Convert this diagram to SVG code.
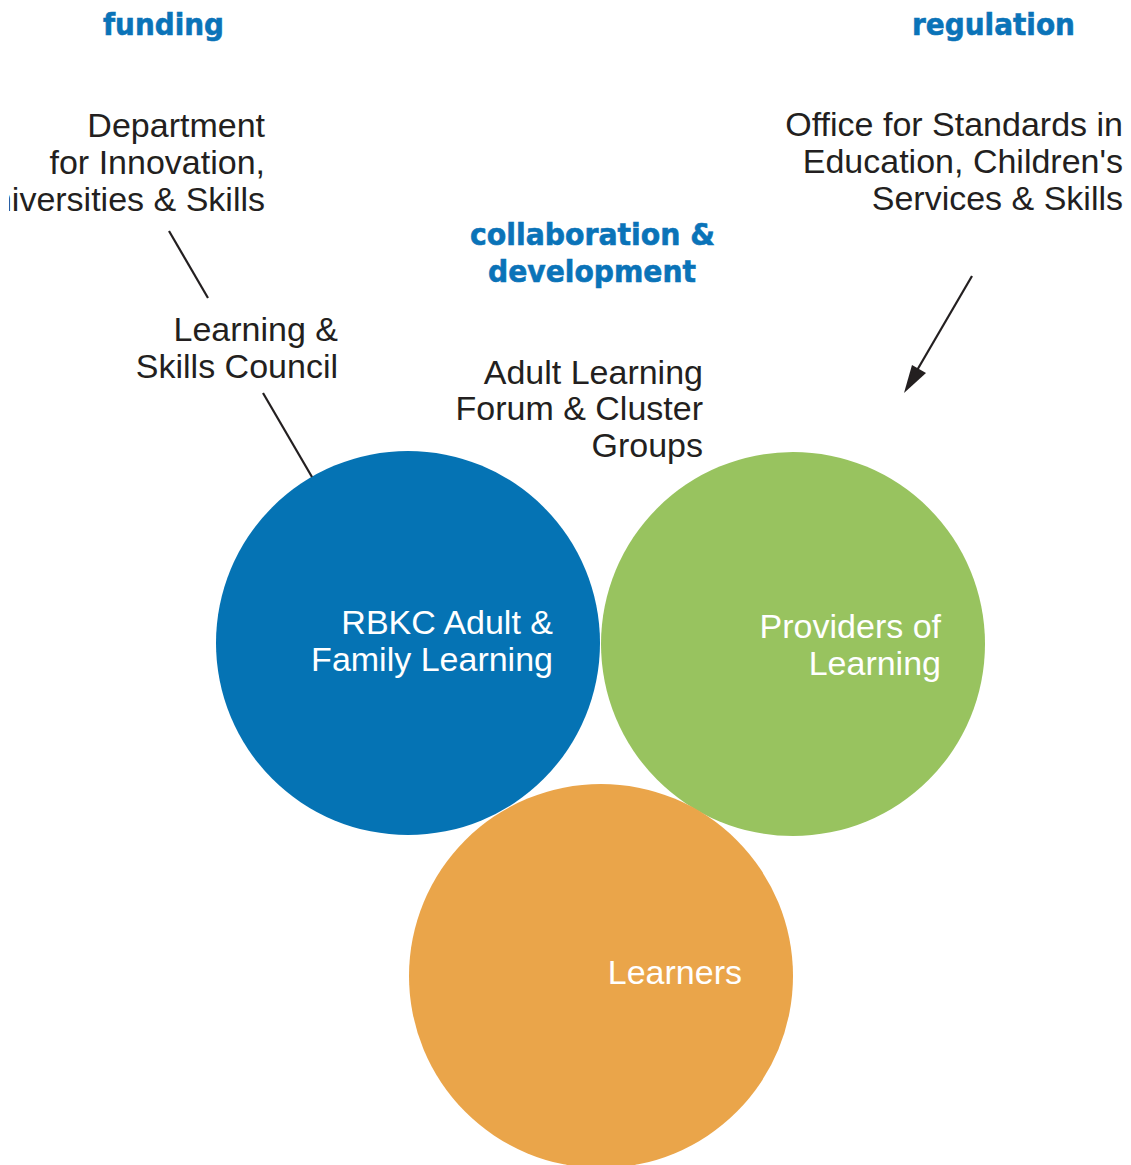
<svg xmlns="http://www.w3.org/2000/svg" width="1131" height="1165" viewBox="0 0 1131 1165">
  <style>
    .head { font-family: "DejaVu Sans", "Liberation Sans", sans-serif; font-weight: bold; font-size: 30px; fill: #0a73b8; stroke: #0a73b8; stroke-width: 0.6; }
    .label { font-family: "Liberation Sans", Arial, sans-serif; font-size: 34px; fill: #231f20; text-anchor: end; }
    .inner { font-family: "Liberation Sans", Arial, sans-serif; font-size: 34px; fill: #ffffff; text-anchor: end; }
    .link { stroke: #231f20; stroke-width: 2.2; fill: none; }
  </style>
  <defs>
    <clipPath id="leftEdge">
      <rect x="9" y="0" width="1122" height="1165"/>
    </clipPath>
  </defs>
  <rect width="1131" height="1165" fill="#ffffff"/>

  <!-- section headings -->
  <g id="headings">
    <text class="head" x="103" y="35" textLength="121" lengthAdjust="spacingAndGlyphs">funding</text>
    <text class="head" x="912" y="35" textLength="163" lengthAdjust="spacingAndGlyphs">regulation</text>
    <text class="head" x="470" y="245" textLength="245" lengthAdjust="spacingAndGlyphs">collaboration &amp;</text>
    <text class="head" x="488" y="282" textLength="208" lengthAdjust="spacingAndGlyphs">development</text>
  </g>

  <!-- circles -->
  <g id="node-rbkc">
    <circle cx="408" cy="643" r="192" fill="#0573b4"/>
    <text class="inner" x="553" y="634">RBKC Adult &amp;</text>
    <text class="inner" x="553" y="671">Family Learning</text>
  </g>
  <g id="node-providers">
    <circle cx="793" cy="644" r="192" fill="#98c35f"/>
    <text class="inner" x="941" y="638">Providers of</text>
    <text class="inner" x="941" y="675">Learning</text>
  </g>
  <g id="node-learners">
    <circle cx="601" cy="976" r="192" fill="#eaa54a"/>
    <text class="inner" x="742" y="984">Learners</text>
  </g>

  <!-- external bodies -->
  <g id="node-dius" clip-path="url(#leftEdge)">
    <text class="label" x="265" y="137">Department</text>
    <text class="label" x="265" y="174">for Innovation,</text>
    <text class="label" x="265" y="211">Universities &amp; Skills</text>
  </g>
  <g id="node-lsc">
    <text class="label" x="338" y="341">Learning &amp;</text>
    <text class="label" x="338" y="378">Skills Council</text>
  </g>
  <g id="node-forum">
    <text class="label" x="703" y="384">Adult Learning</text>
    <text class="label" x="703" y="420">Forum &amp; Cluster</text>
    <text class="label" x="703" y="457">Groups</text>
  </g>
  <g id="node-ofsted">
    <text class="label" x="1123" y="136">Office for Standards in</text>
    <text class="label" x="1123" y="173">Education, Children's</text>
    <text class="label" x="1123" y="210">Services &amp; Skills</text>
  </g>

  <!-- connectors -->
  <g id="connectors">
    <line class="link" x1="169" y1="231" x2="208" y2="298"/>
    <line class="link" x1="263" y1="393" x2="312" y2="477"/>
    <path class="link" d="M972,276 L916,372"/>
    <path d="M904,393 L912,365 L926,373 z" fill="#231f20"/>
  </g>
</svg>
